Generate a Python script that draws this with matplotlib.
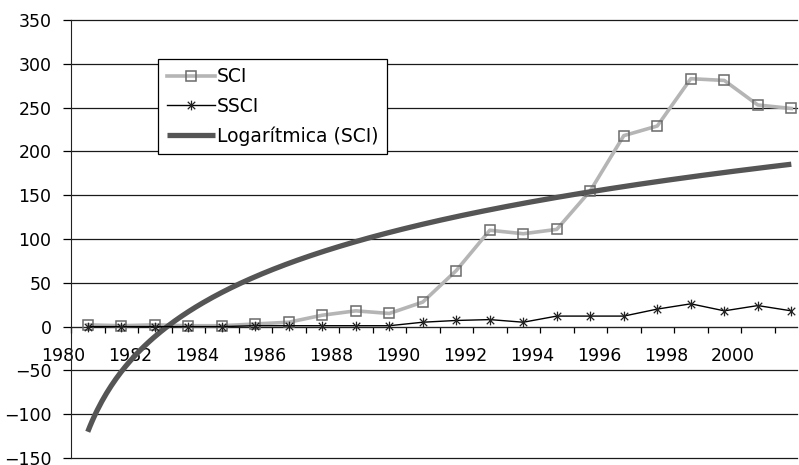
import matplotlib
matplotlib.use('Agg')
import matplotlib.pyplot as plt
import matplotlib.transforms as mtransforms
import numpy as np
from matplotlib.path import Path

years = np.arange(1981, 2003)
sci = [2, 1, 2, 1, 1, 3, 5, 13, 18, 15, 28, 64, 110, 106, 111, 155, 218, 229, 283, 281, 253, 249]
ssci = [0, 0, 0, 0, 0, 1, 1, 1, 1, 1, 5, 7, 8, 5, 12, 12, 12, 20, 26, 18, 24, 18]
x_labels = list(range(1980, 2001, 2))
y_ticks = list(range(-150, 351, 50))

plt.rcParams['font.family'] = ['DejaVu Sans']

fig = plt.figure(figsize=(7.99, 4.65), dpi=100, facecolor='white')
ax = fig.add_axes([71 / 799, 7 / 465, 726 / 799, 438 / 465])

# Excel puts the points between the yearly ticks
xpos = years - 0.5

# logarithmic trend line fitted on SCI (x = 1..n, like Excel)
n = np.arange(1, len(sci) + 1)
a, b = np.polyfit(np.log(n), sci, 1)
t = np.linspace(1, len(sci), 300)
ax.plot(xpos[0] + t - 1, a * np.log(t) + b, color='#555555', lw=3.8,
        solid_capstyle='butt', label='Logarítmica (SCI)', zorder=4)

ax.plot(xpos, sci, color='#b5b5b5', lw=2.6, marker='s', markersize=7.5,
        markerfacecolor='none', markeredgecolor='#6a6a6a', markeredgewidth=1.1,
        label='SCI', zorder=3)

star = Path([(-1, -1), (1, 1), (-1, 1), (1, -1), (0, -1.3), (0, 1.3)],
            [Path.MOVETO, Path.LINETO, Path.MOVETO, Path.LINETO, Path.MOVETO, Path.LINETO])
ax.plot(xpos, ssci, color='black', lw=1.0, marker=star, markersize=7,
        markerfacecolor='none', markeredgecolor='#222222', markeredgewidth=0.9,
        label='SSCI', zorder=5)

ax.set_xlim(1980, 2001.67)
ax.set_ylim(-150, 350)
ax.set_yticks(y_ticks)
ax.set_xticks(x_labels)
ax.set_xticks(range(1980, 2002), minor=True)
ax.yaxis.grid(True, color='#1a1a1a', lw=0.9)
for g in ax.yaxis.get_gridlines():
    g.set_clip_on(False)
ax.set_axisbelow(True)

for s in ['top', 'right']:
    ax.spines[s].set_visible(False)
ax.spines['bottom'].set_position(('data', 0))
ax.spines['bottom'].set_color('#222222')
ax.spines['left'].set_color('#222222')
ax.spines['bottom'].set_zorder(2)

ax.tick_params(axis='y', direction='out', length=6, width=0.9, labelsize=12.5, pad=8)
ax.tick_params(axis='x', which='both', direction='out', length=4, width=0.9)
ax.tick_params(axis='x', which='major', labelsize=12.5, pad=11)

shift = mtransforms.ScaledTranslation(-0.08, 0, fig.dpi_scale_trans)
for lab in ax.get_xticklabels():
    lab.set_transform(lab.get_transform() + shift)

h, l = ax.get_legend_handles_labels()
order = [1, 2, 0]
leg = ax.legend([h[i] for i in order], [l[i] for i in order],
                loc='upper left', bbox_to_anchor=(0.12, 0.911), borderaxespad=0,
                fontsize=13.5, frameon=True, fancybox=False, framealpha=1,
                edgecolor='black', handlelength=2.6, handletextpad=0.1,
                labelspacing=0.55, borderpad=0.45)
leg.get_frame().set_linewidth(0.9)

fig.savefig('out.png', dpi=100)
